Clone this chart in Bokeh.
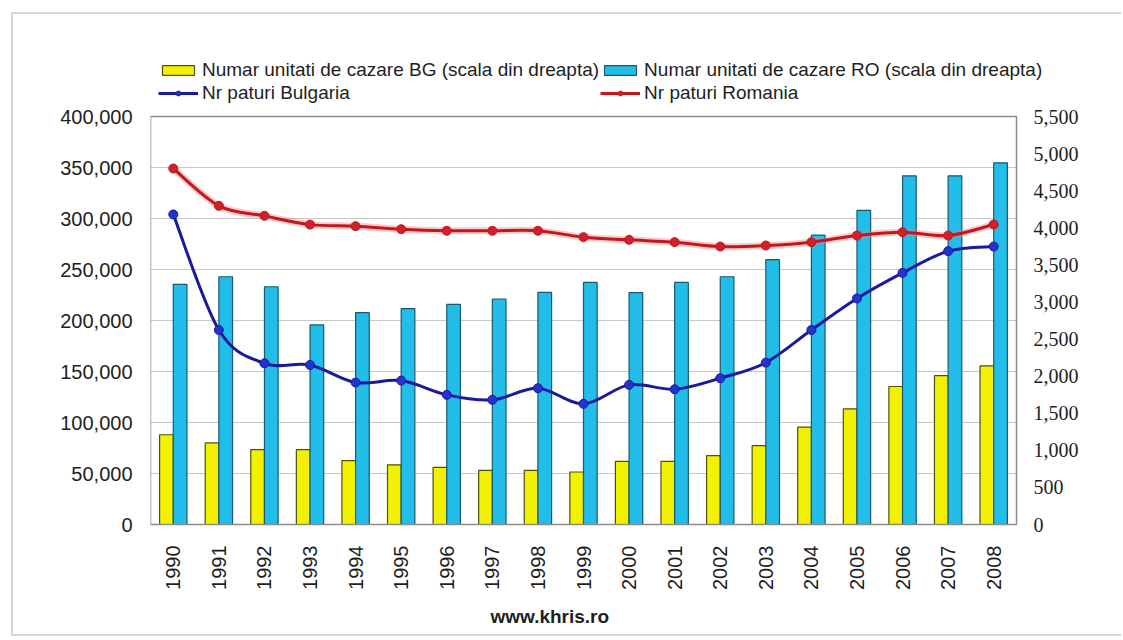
import numpy as np
from bokeh.plotting import figure
from bokeh.models import (Range1d, FixedTicker, NumeralTickFormatter,
                          Legend, LegendItem, Title)
from bokeh.embed import file_html
from bokeh.resources import INLINE

# Years on the category axis
years = [str(y) for y in range(1990, 2009)]

# Accommodation units (right scale)
bg_units = [1210, 1100, 1010, 1010, 860, 805, 770, 730, 730, 708,
            852, 852, 928, 1062, 1314, 1560, 1860, 2008, 2138]
ro_units = [3237, 3340, 3205, 2690, 2855, 2910, 2968, 3040, 3130, 3263,
            3125, 3263, 3340, 3570, 3900, 4235, 4700, 4700, 4875]

# Number of beds (left scale)
bg_beds = [304000, 190700, 158000, 156400, 139200, 141100, 127100, 122200, 133600, 118300,
           136900, 132600, 143400, 158700, 190700, 221600, 246700, 268000, 272500]
ro_beds = [349000, 312400, 302600, 294000, 292500, 289500, 288000, 288000, 288000, 281700,
           279100, 276800, 272500, 273500, 276800, 283300, 286600, 283300, 294100]

left_ticks = list(range(0, 400001, 50000))
right_ticks = list(range(0, 5501, 500))
right_labels = [f"{t:,}" for t in right_ticks]

labels = ["Numar unitati de cazare BG (scala din dreapta)",
          "Numar unitati de cazare RO (scala din dreapta)",
          "Nr paturi Bulgaria",
          "Nr paturi Romania"]

FONT = "Liberation Sans"
TXT = "#1e1e1e"

BG_FILL, BG_EDGE = "#f2f200", "#4f4f14"
RO_FILL, RO_EDGE = "#22bde8", "#1a5a6c"
BGL, BGM = "#1a1a9c", "#2233d0"
ROL, ROM = "#c4161e", "#d0202a"

n = len(years)
xpos = np.arange(n) + 0.5
left_max, right_max = left_ticks[-1], right_ticks[-1]

# Plot area (bars + grid) is 866x408 px.  The drawing frame is larger: it reaches
# up over the legend, right over the right-hand labels and a little below zero.
PLOT_W, PLOT_H = 866, 408
FRAME_W = 950
PAD_TOP, PAD_BOTTOM = 66, 12
FRAME_H = PLOT_H + PAD_TOP + PAD_BOTTOM
FIG_W, FIG_H = 1110, 624
BORDER_L, BORDER_B = 137, 102

x_end = n * FRAME_W / PLOT_W
y_lo = -left_max * PAD_BOTTOM / PLOT_H
y_hi = left_max * (PLOT_H + PAD_TOP) / PLOT_H
u_lo = -right_max * PAD_BOTTOM / PLOT_H
u_hi = right_max * (PLOT_H + PAD_TOP) / PLOT_H

p = figure(width=FIG_W, height=FIG_H, output_backend="svg", toolbar_location=None,
           x_range=Range1d(0, x_end), y_range=Range1d(y_lo, y_hi),
           min_border_left=BORDER_L, min_border_right=FIG_W - BORDER_L - FRAME_W,
           min_border_top=FIG_H - BORDER_B - FRAME_H, min_border_bottom=BORDER_B,
           background_fill_color="white", border_fill_color="white")
p.styles = {
    "margin-left": "11px",
    "margin-top": "12px",
    "border-left": "2px solid #d6d6d6",
    "border-top": "2px solid #d6d6d6",
    "border-bottom": "2px solid #d6d6d6",
}
p.extra_y_ranges = {"units": Range1d(u_lo, u_hi)}
p.outline_line_color = None
p.xgrid.visible = False
p.ygrid.visible = False


def style_axis(ax, size="20px"):
    ax.axis_line_color = None
    ax.major_tick_line_color = None
    ax.minor_tick_line_color = None
    ax.major_tick_out = 0
    ax.major_tick_in = 0
    ax.minor_tick_out = 0
    ax.major_label_text_font = FONT
    ax.major_label_text_font_size = size
    ax.major_label_text_color = TXT


# left axis
p.yaxis.ticker = FixedTicker(ticks=left_ticks)
p.yaxis.formatter = NumeralTickFormatter(format="0,0")
style_axis(p.yaxis[0])
p.yaxis.major_label_standoff = 18

# category axis
p.xaxis.ticker = FixedTicker(ticks=list(xpos))
p.xaxis.major_label_overrides = {float(x): y for x, y in zip(xpos, years)}
p.xaxis.major_label_orientation = np.pi / 2
style_axis(p.xaxis[0])
p.xaxis.major_label_standoff = 9

# horizontal grid lines at the left-scale ticks
p.segment(x0=0, x1=n, y0=left_ticks, y1=left_ticks, line_color="#c8c8c8", line_width=1.2)

# bars on the right scale
r_bg = p.vbar(x=xpos - 0.15, top=bg_units, width=0.3, bottom=0, y_range_name="units",
              fill_color=BG_FILL, line_color=BG_EDGE, line_width=1.2)
r_ro = p.vbar(x=xpos + 0.15, top=ro_units, width=0.3, bottom=0, y_range_name="units",
              fill_color=RO_FILL, line_color=RO_EDGE, line_width=1.2)

# plot-area border
p.quad(left=0, right=n, bottom=0, top=left_max, fill_color=None,
       line_color="#8c8c8c", line_width=1.5)

# right-hand scale labels
p.text(x=[n] * len(right_ticks), y=right_ticks, text=right_labels, y_range_name="units",
       x_offset=17, text_align="left", text_baseline="middle",
       text_font=FONT, text_font_size="20px", text_color=TXT)


def smooth_segments(xs, ys):
    xs = list(xs)
    ys = list(ys)
    m = len(xs)
    seg = dict(x0=[], y0=[], x1=[], y1=[], cx0=[], cy0=[], cx1=[], cy1=[])
    for i in range(m - 1):
        a = max(i - 1, 0)
        d = min(i + 2, m - 1)
        seg["x0"].append(xs[i]); seg["y0"].append(ys[i])
        seg["x1"].append(xs[i + 1]); seg["y1"].append(ys[i + 1])
        seg["cx0"].append(xs[i] + (xs[i + 1] - xs[a]) / 6)
        seg["cy0"].append(ys[i] + (ys[i + 1] - ys[a]) / 6)
        seg["cx1"].append(xs[i + 1] - (xs[d] - xs[i]) / 6)
        seg["cy1"].append(ys[i + 1] - (ys[d] - ys[i]) / 6)
    return seg


# Romania beds: soft halo under a dark red curve
ro_seg = smooth_segments(xpos, ro_beds)
p.bezier(line_color="#f08080", line_width=7, line_alpha=0.4, **ro_seg)
r_rol = p.bezier(line_color=ROL, line_width=3, **ro_seg)
r_rom = p.scatter(xpos, ro_beds, size=9, marker="circle", fill_color=ROM, line_color=ROL)

# Bulgaria beds
bg_seg = smooth_segments(xpos, bg_beds)
r_bgl = p.bezier(line_color=BGL, line_width=3, **bg_seg)
r_bgm = p.scatter(xpos, bg_beds, size=9, marker="circle", fill_color=BGM, line_color=BGL)

# legend: two rows of two, placed above the plot area (offsets from the frame's bottom-left)
legend = Legend(items=[
    LegendItem(label=labels[0], renderers=[r_bg]),
    LegendItem(label=labels[1], renderers=[r_ro]),
    LegendItem(label=labels[2], renderers=[r_bgl, r_bgm]),
    LegendItem(label=labels[3], renderers=[r_rol, r_rom]),
], orientation="horizontal", ncols=2, location=(8, PAD_BOTTOM + PLOT_H + 12))
legend.label_text_font = FONT
legend.label_text_font_size = "19px"
legend.label_text_color = TXT
legend.glyph_width = 40
legend.glyph_height = 12
legend.label_standoff = 4
legend.spacing = 1
legend.padding = 0
legend.margin = 0
legend.background_fill_alpha = 0
legend.border_line_alpha = 0
p.add_layout(legend, "center")

# source caption under the chart
cap = Title(text="www.khris.ro", align="left", offset=340, text_font=FONT,
            text_font_size="19px", text_font_style="bold", text_color=TXT,
            standoff=22)
p.add_layout(cap, "below")

open("out.html", "w").write(file_html(p, INLINE))
